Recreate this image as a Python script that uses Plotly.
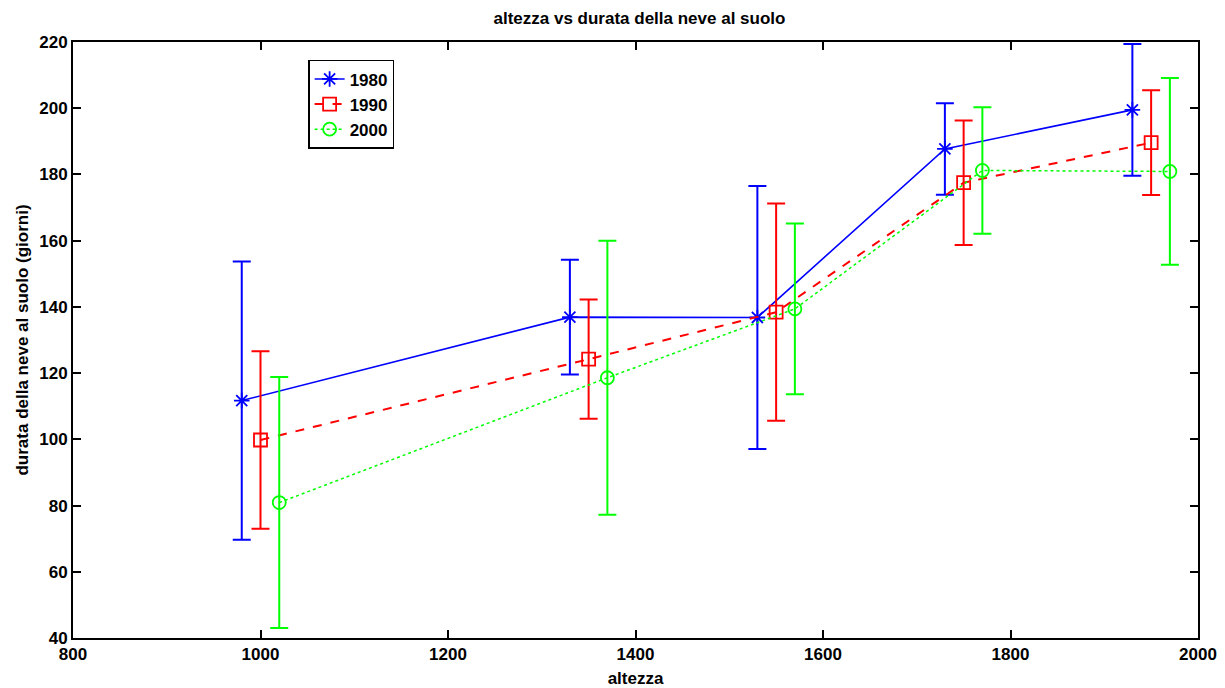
import plotly.graph_objects as go

years = ["1980", "1990", "2000"]
x_1980 = [980, 1330, 1530, 1730, 1930]
y_1980 = [111.7, 136.9, 136.8, 187.7, 199.5]
e_1980 = [42.0, 17.3, 39.7, 13.8, 19.9]

x_1990 = [1000, 1350, 1550, 1750, 1950]
y_1990 = [99.8, 124.2, 138.4, 177.5, 189.6]
e_1990 = [26.8, 18.0, 32.8, 18.8, 15.8]

x_2000 = [1020, 1370, 1570, 1770, 1970]
y_2000 = [80.9, 118.6, 139.4, 181.2, 180.9]
e_2000 = [37.9, 41.4, 25.8, 19.1, 28.2]

xticks = [800, 1000, 1200, 1400, 1600, 1800, 2000]
yticks = [40, 60, 80, 100, 120, 140, 160, 180, 200, 220]

series = [
    (years[0], x_1980, y_1980, e_1980, "#0000ff", "solid", "asterisk-open", 1.6),
    (years[1], x_1990, y_1990, e_1990, "#ff0000", "dash", "square-open", 2.0),
    (years[2], x_2000, y_2000, e_2000, "#00ff00", "dot", "circle-open", 1.5),
]

fig = go.Figure()
for name, xs, ys, es, col, dash, sym, lw in series:
    fig.add_trace(go.Scatter(
        x=xs, y=ys, name=f"<b>{name}</b>", mode="lines+markers",
        line=dict(color=col, width=lw, dash=dash),
        marker=dict(symbol=sym, size=13, color=col, line=dict(color=col, width=1.8)),
        error_y=dict(type="data", array=es, visible=True, color=col, thickness=2, width=9),
    ))

font_fam = "Liberation Sans, Arial, sans-serif"
fig.update_layout(
    width=1225, height=688,
    margin=dict(l=73, r=27, t=42, b=50),
    paper_bgcolor="white", plot_bgcolor="white",
    title=dict(text="<b>altezza vs durata della neve al suolo</b>", x=0.522, xanchor="center",
               y=0.974, yanchor="middle", font=dict(family=font_fam, size=17, color="black")),
    font=dict(family=font_fam, size=17, color="black"),
    showlegend=True,
    legend=dict(x=0.209, y=0.97, xanchor="left", yanchor="top",
                bgcolor="white", bordercolor="black", borderwidth=1.5,
                font=dict(family=font_fam, size=17, color="black"),
                tracegroupgap=0, itemwidth=30),
)
fig.update_xaxes(
    range=[800, 2000], tickvals=xticks, ticktext=[f"<b>{v}</b>" for v in xticks],
    showline=True, linecolor="black", linewidth=2, mirror="ticks",
    ticks="inside", ticklen=8, tickwidth=1.5, tickcolor="black",
    showgrid=False, zeroline=False, tickfont=dict(size=17), automargin=False,
    title=dict(text="<b>altezza</b>", font=dict(family=font_fam, size=17), standoff=10),
)
fig.update_yaxes(
    range=[40, 220], tickvals=yticks, ticktext=[f"<b>{v}</b>" for v in yticks],
    showline=True, linecolor="black", linewidth=2, mirror="ticks",
    ticks="inside", ticklen=8, tickwidth=1.5, tickcolor="black",
    showgrid=False, zeroline=False, tickfont=dict(size=17), automargin=False,
    title=dict(text="<b>durata della neve al suolo (giorni)</b>", font=dict(family=font_fam, size=17), standoff=6),
)
fig.write_html("out.html")
